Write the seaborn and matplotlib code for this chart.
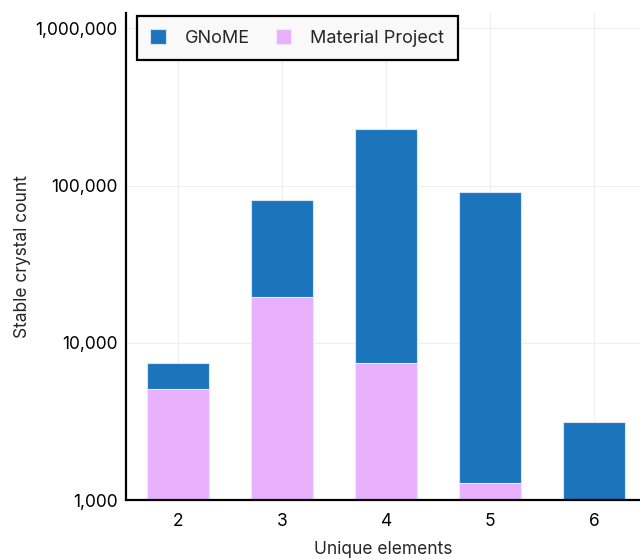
import matplotlib
matplotlib.use("Agg")
import matplotlib.pyplot as plt
import matplotlib.ticker as mticker
import pandas as pd
import seaborn as sns

elements = ["2", "3", "4", "5", "6"]
gnome = [7450, 80500, 228000, 90500, 3130]
material_project = [5080, 19500, 7400, 1285, 990]

df = pd.DataFrame({"elements": elements, "GNoME": gnome, "Material Project": material_project})

sns.set_style("white")
plt.rcParams["font.family"] = ["Inter", "DejaVu Sans"]

fig, ax = plt.subplots(figsize=(6.4, 5.59), dpi=100)
ax.set_yscale("log")

sns.barplot(data=df, x="elements", y="GNoME", color="#1c75bc", saturation=1, width=0.6,
            edgecolor="#d6e4f3", linewidth=0.8, label="GNoME", ax=ax)
sns.barplot(data=df, x="elements", y="Material Project", color="#e9b0fd", saturation=1, width=0.6,
            edgecolor="#f1e6fb", linewidth=0.8, label="Material Project", ax=ax)

ax.set_ylim(1000, 1.25e6)
ax.set_xlim(-0.5, 4.44)
ax.yaxis.set_major_locator(mticker.LogLocator(base=10, numticks=10))
ax.yaxis.set_minor_locator(mticker.NullLocator())
ax.yaxis.set_major_formatter(mticker.FuncFormatter(lambda v, p: f"{int(round(v)):,}"))
ax.grid(True, color="#efefef", linewidth=0.8)
ax.set_axisbelow(True)
ax.tick_params(axis="y", length=0, labelsize=12.5, colors="black", pad=6)
ax.tick_params(axis="x", length=0, labelsize=12.5, colors="black", pad=9)

for s in ["top", "right"]:
    ax.spines[s].set_visible(False)
for s in ["left", "bottom"]:
    ax.spines[s].set_color("black")
    ax.spines[s].set_linewidth(1.6)

ax.set_xlabel("Unique elements", fontsize=12.5, labelpad=8)
ax.set_ylabel("Stable crystal count", fontsize=12.5, labelpad=3)

leg = ax.legend(loc="upper left", bbox_to_anchor=(0.021, 0.994), borderaxespad=0, ncol=2, fontsize=13,
                frameon=True, fancybox=False, edgecolor="black", facecolor="#f9f9f9",
                handlelength=0.85, handleheight=0.85, borderpad=0.75, columnspacing=1.45, handletextpad=1.05)
leg.get_frame().set_linewidth(1.6)
leg.get_frame().set_alpha(1)

fig.subplots_adjust(left=0.197, right=1.0, top=0.977, bottom=0.105)
fig.savefig("out.png", dpi=100)
